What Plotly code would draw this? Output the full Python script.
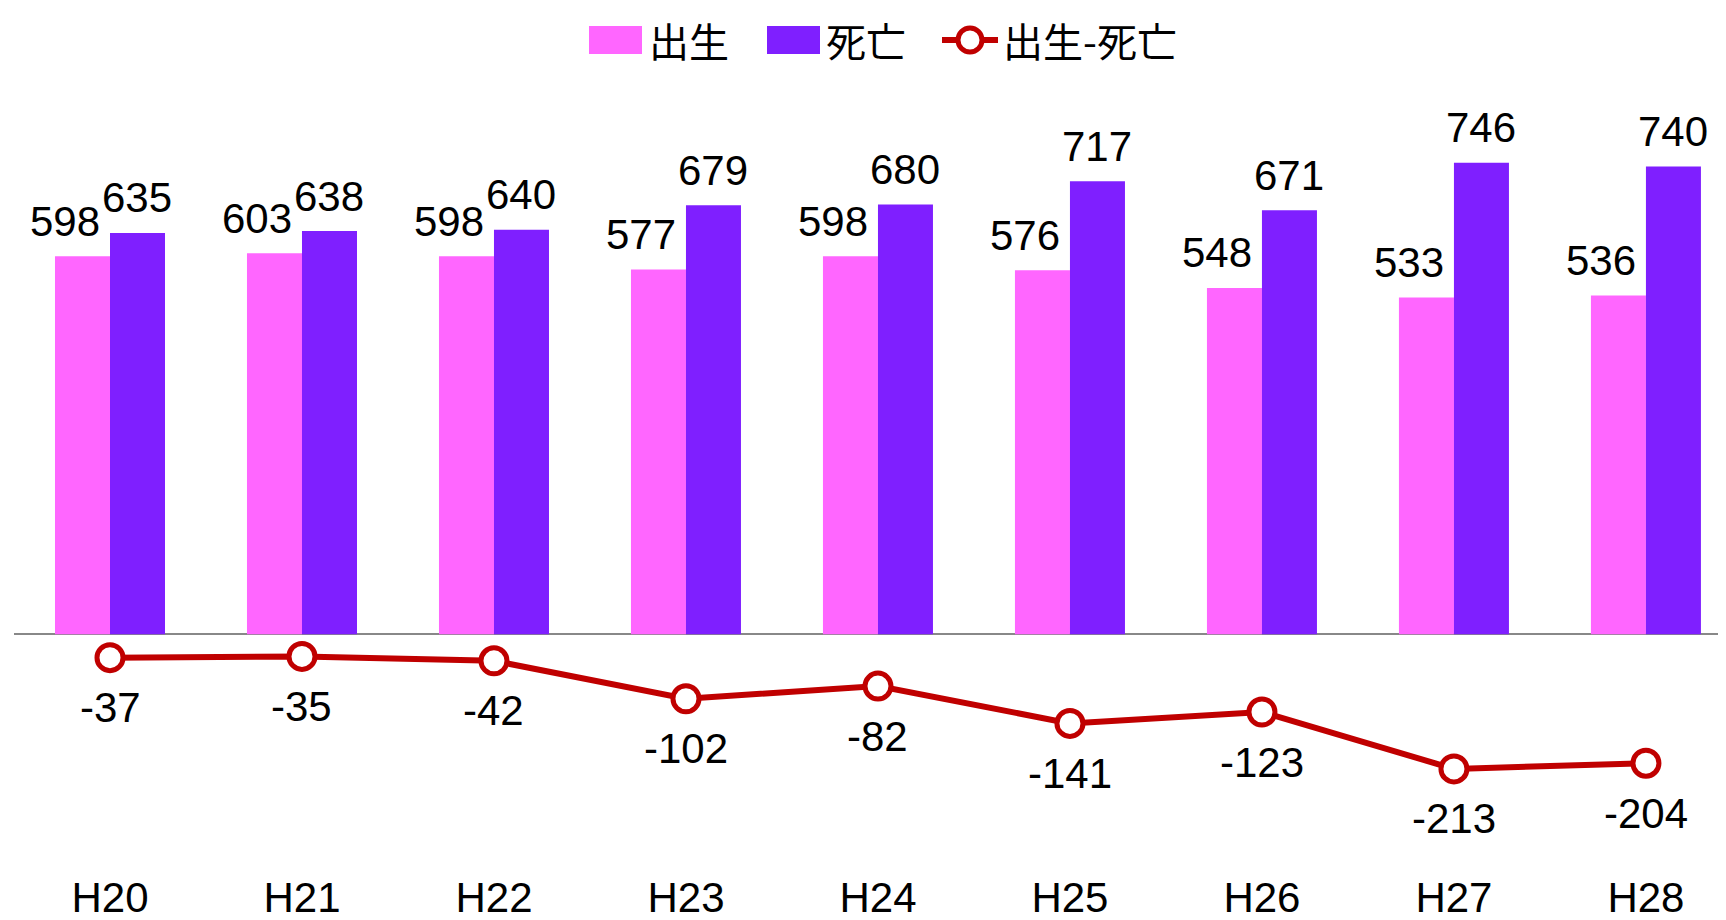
import plotly.graph_objects as go

categories = ["H20", "H21", "H22", "H23", "H24", "H25", "H26", "H27", "H28"]
births = [598, 603, 598, 577, 598, 576, 548, 533, 536]
deaths = [635, 638, 640, 679, 680, 717, 671, 746, 740]
net = [-37, -35, -42, -102, -82, -141, -123, -213, -204]
series_names = ["出生", "死亡", "出生-死亡"]

PINK = "#FF66FF"
PURPLE = "#7F1FFF"
RED = "#C00000"
FONT = "Liberation Sans, Arial, Noto Sans CJK JP, sans-serif"
CJK = "Noto Sans CJK JP, sans-serif"

# layout geometry (figure pixels)
W, H = 1726, 920
L, T = 6, 82
PW, PH = 1712, 779
R = W - L - PW
B = H - T - PH
OFF = 8  # page body margin


def px(xp):
    return (xp - OFF - L) / PW


def py(yp):
    return (T + PH - (yp - OFF)) / PH


fig = go.Figure()
fig.add_trace(go.Bar(x=categories, y=births, name=series_names[0], marker=dict(color=PINK, line=dict(width=0))))
fig.add_trace(go.Bar(x=categories, y=deaths, name=series_names[1], marker=dict(color=PURPLE, line=dict(width=0))))
fig.add_trace(go.Scatter(
    x=categories, y=net, name=series_names[2], mode="lines+markers",
    line=dict(color=RED, width=6),
    marker=dict(symbol="circle", size=26, color="white", line=dict(color=RED, width=5)),
))

lab_font = dict(size=42, color="black", family=FONT)
annotations = []
for c, v in zip(categories, births):
    annotations.append(dict(x=c, y=v, text=str(v), showarrow=False, xshift=-45, yshift=35,
                            yanchor="middle", font=lab_font))
for c, v in zip(categories, deaths):
    annotations.append(dict(x=c, y=v, text=str(v), showarrow=False, xshift=27, yshift=35,
                            yanchor="middle", font=lab_font))
for c, v in zip(categories, net):
    annotations.append(dict(x=c, y=v, text=str(v), showarrow=False, yshift=-50,
                            yanchor="middle", font=lab_font))

# custom legend (larger swatches as in the reference)
leg_font = dict(size=40, color="black", family=CJK)
shapes = []
shapes.append(dict(type="rect", xref="paper", yref="paper", x0=px(589), x1=px(642), y0=py(54), y1=py(26),
                   fillcolor=PINK, line=dict(width=0)))
shapes.append(dict(type="rect", xref="paper", yref="paper", x0=px(767), x1=px(820), y0=py(54), y1=py(26),
                   fillcolor=PURPLE, line=dict(width=0)))
shapes.append(dict(type="line", xref="paper", yref="paper", x0=px(942), x1=px(998), y0=py(40), y1=py(40),
                   line=dict(color=RED, width=6)))
shapes.append(dict(type="circle", xref="paper", yref="paper", x0=px(958), x1=px(982), y0=py(52), y1=py(28),
                   fillcolor="white", line=dict(color=RED, width=5)))
for name, xl in zip(series_names, [647, 824, 1001]):
    annotations.append(dict(xref="paper", yref="paper", x=px(xl), y=py(OFF + 1), xanchor="left", yanchor="top",
                            text=name, showarrow=False, font=leg_font))

fig.update_layout(
    width=W, height=H,
    paper_bgcolor="white", plot_bgcolor="white",
    margin=dict(l=L, r=R, t=T, b=B),
    barmode="group", bargap=0.427, bargroupgap=0,
    font=dict(family=FONT, color="black"),
    showlegend=False,
    annotations=annotations,
    shapes=shapes,
)
fig.update_xaxes(range=[-0.5, 8.417], showgrid=False, showline=False, ticks="",
                 tickfont=dict(size=42, family=FONT, color="black"), automargin=False)
fig.update_yaxes(range=[-371.4, 861.2], showgrid=False, showticklabels=False, ticks="",
                 zeroline=True, zerolinecolor="#888888", zerolinewidth=2, showline=False, automargin=False)

fig.write_html("out.html")
